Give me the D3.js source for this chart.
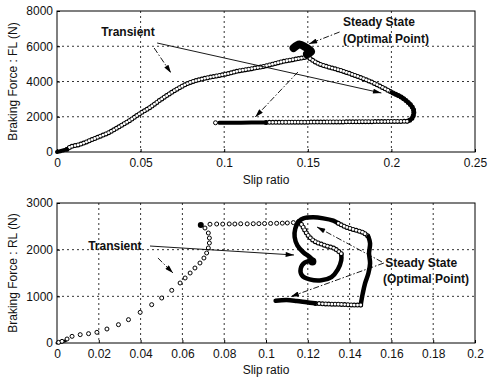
<!DOCTYPE html>
<html lang="en">
<head>
<meta charset="UTF-8">
<title>Braking force vs slip ratio</title>
<script src="https://d3js.org/d3.v7.min.js"></script>
<style>
    html, body { margin: 0; background: #fff; }
    text { font-family: Arial, "Liberation Sans", Helvetica, sans-serif; fill: #111; }
</style>
</head>
<body>
<script>

// ---- top chart: front-left wheel (FL) ----
var flXTicks = [0, 0.05, 0.1, 0.15, 0.2, 0.25];
var flXLabels = ["0", "0.05", "0.1", "0.15", "0.2", "0.25"];
var flYTicks = [0, 2000, 4000, 6000, 8000];

// [slip, force]
var flStart = [[0, 0], [0.002, 40], [0.004, 100], [0.006, 150]];
var flRise = [[0.006, 150], [0.0079, 283], [0.0138, 434], [0.0198, 660], [0.0257, 887], [0.0316, 1132],
    [0.0375, 1453], [0.0435, 1793], [0.0494, 2170], [0.0553, 2510], [0.0613, 2925], [0.0672, 3302],
    [0.0731, 3642], [0.079, 3920], [0.085, 4100], [0.0909, 4230], [0.0968, 4340], [0.1028, 4460],
    [0.1087, 4600], [0.1228, 4840], [0.1346, 5120], [0.1445, 5300], [0.150, 5400]];
var flFall = [[0.150, 5400], [0.156, 5030], [0.1718, 4560], [0.1876, 3990], [0.1995, 3420], [0.2084, 2950],
    [0.2133, 2380], [0.2123, 1910], [0.2094, 1740]];
var flElbow = [[0.2000, 3380], [0.2084, 2950], [0.2133, 2380], [0.2123, 1910], [0.2094, 1740]];
var flReturn = [[0.2094, 1740], [0.185, 1720], [0.16, 1700], [0.14, 1690], [0.125, 1680]];
var flReturnThick = [[0.125, 1680], [0.11, 1665], [0.097, 1660]];
var flEnd = [[0.0948, 1660]];
var flBlob = [[0.1415, 5900], [0.145, 6100], [0.1485, 5950], [0.152, 5700], [0.1495, 5550]];

// ---- bottom chart: rear-left wheel (RL) ----
var rlXTicks = [0, 0.02, 0.04, 0.06, 0.08, 0.1, 0.12, 0.14, 0.16, 0.18, 0.2];
var rlXLabels = ["0", "0.02", "0.04", "0.06", "0.08", "0.1", "0.12", "0.14", "0.16", "0.18", "0.2"];
var rlYTicks = [0, 1000, 2000, 3000];

var rlStart = [[0, 0], [0.002, 20], [0.004, 45]];
var rlRise = [[0.0008, 14], [0.0024, 36], [0.0048, 86], [0.0072, 143], [0.0111, 179], [0.0151, 200],
    [0.0191, 229], [0.0239, 300], [0.0294, 393], [0.0342, 500], [0.0398, 657], [0.0453, 821],
    [0.0501, 964], [0.0549, 1129], [0.0589, 1286], [0.0613, 1393], [0.0637, 1500], [0.066, 1607],
    [0.0684, 1714], [0.0703, 1821], [0.0716, 1929], [0.0724, 2036], [0.0729, 2143], [0.0729, 2250],
    [0.0724, 2357], [0.0708, 2464]];
var rlTop = [[0.0732, 2545], [0.0764, 2550], [0.0793, 2548], [0.0824, 2552], [0.0851, 2550], [0.0879, 2555],
    [0.0910, 2553], [0.0939, 2556], [0.0966, 2558], [0.0993, 2560], [0.1022, 2562], [0.1051, 2565],
    [0.1078, 2568], [0.1102, 2572], [0.1131, 2580], [0.1158, 2590]];
var rlTurn = [[0.0688, 2530]];
var rlOuterTop = [[0.1155, 2600], [0.1179, 2671], [0.1226, 2693], [0.1274, 2671], [0.1322, 2621], [0.1346, 2564]];
var rlRightRings = [[0.1346, 2564], [0.1378, 2493], [0.1426, 2421], [0.1466, 2364], [0.149, 2279]];
var rlRightThick = [[0.149, 2279], [0.1498, 2136], [0.1493, 1921], [0.1498, 1707], [0.149, 1493],
    [0.1474, 1279], [0.1463, 1064], [0.1453, 814]];
var rlBottomRings = [[0.1453, 814], [0.1418, 814], [0.1354, 829], [0.129, 836], [0.1234, 850]];
var rlBottomThick = [[0.1234, 850], [0.1195, 871], [0.1147, 900], [0.1099, 921], [0.1046, 906]];
var rlLeftThick = [[0.1155, 2600], [0.114, 2450], [0.1137, 2271], [0.115, 2093], [0.1177, 1950],
    [0.1209, 1843], [0.1225, 1771]];
var rlLobeThick = [[0.1225, 1760], [0.1185, 1721], [0.1166, 1593], [0.1172, 1450], [0.1209, 1364],
    [0.1265, 1343], [0.1313, 1414], [0.1344, 1579], [0.136, 1771], [0.136, 1914]];
var rlInnerRings = [[0.136, 1914], [0.1329, 2021], [0.1281, 2093], [0.1233, 2179], [0.1201, 2307],
    [0.1177, 2486], [0.1165, 2570]];
var rlEnd = [[0.1222, 1745]];

var width = 488, height = 379;
var svg = d3.select("body").append("svg").attr("width", width).attr("height", height);

var defs = svg.append("defs");
defs.append("marker").attr("id", "head")
    .attr("viewBox", "0 0 10 6").attr("refX", 10).attr("refY", 3)
    .attr("markerWidth", 10).attr("markerHeight", 5).attr("markerUnits", "userSpaceOnUse")
    .attr("orient", "auto")
    .append("path").attr("d", "M0,0 L10,3 L0,6 Z").attr("fill", "#000");

function makePanel(opt) {
    var x = d3.scaleLinear().domain(opt.xDomain).range([57, 475]);
    var y = d3.scaleLinear().domain(opt.yDomain).range([opt.bottom, opt.top]);
    var g = svg.append("g");

    // grid
    g.append("g").selectAll("line").data(opt.xTicks.slice(1, -1)).join("line")
        .attr("x1", function (d) { return x(d); }).attr("x2", function (d) { return x(d); })
        .attr("y1", opt.top).attr("y2", opt.bottom)
        .attr("stroke", "#000").attr("stroke-width", 0.8).attr("stroke-dasharray", "2,3");
    g.append("g").selectAll("line").data(opt.yTicks.slice(1, -1)).join("line")
        .attr("y1", function (d) { return y(d); }).attr("y2", function (d) { return y(d); })
        .attr("x1", 57).attr("x2", 475)
        .attr("stroke", "#000").attr("stroke-width", 0.8).attr("stroke-dasharray", "2,3");

    // axes
    var xAxis = d3.axisBottom(x).tickValues(opt.xTicks).tickSize(-3).tickPadding(6)
        .tickFormat(function (d, i) { return opt.xLabels[i]; });
    var yAxis = d3.axisLeft(y).tickValues(opt.yTicks).tickSize(-3).tickPadding(4)
        .tickFormat(d3.format("d"));
    var gx = g.append("g").attr("transform", "translate(0," + opt.bottom + ")").call(xAxis);
    var gy = g.append("g").attr("transform", "translate(57,0)").call(yAxis);
    [gx, gy].forEach(function (a) {
        a.select(".domain").remove();
        a.selectAll("text").style("font-size", "12px").attr("fill", "#111");
        a.selectAll("line").attr("stroke", "#000");
    });

    g.append("rect").attr("x", 57).attr("y", opt.top)
        .attr("width", 418).attr("height", opt.bottom - opt.top)
        .attr("fill", "none").attr("stroke", "#000").attr("stroke-width", 1);

    g.append("text").attr("x", 266).attr("y", opt.xLabelY).attr("text-anchor", "middle")
        .style("font-size", "12px").text("Slip ratio");
    g.append("text").attr("transform", "translate(13," + ((opt.top + opt.bottom) / 2) + ") rotate(-90)")
        .attr("text-anchor", "middle").attr("dy", "0.35em")
        .style("font-size", "12px").text(opt.yLabel);

    var line = d3.line().x(function (d) { return x(d[0]); }).y(function (d) { return y(d[1]); })
        .curve(d3.curveCatmullRom);
    var plot = g.append("g");

    return {
        x: x, y: y,
        thick: function (data, w) {
            plot.append("path").attr("d", line(data)).attr("fill", "none")
                .attr("stroke", "#000").attr("stroke-width", w || 4.5)
                .attr("stroke-linecap", "round").attr("stroke-linejoin", "round");
        },
        // ring markers along a traced path
        rings: function (data, gap) {
            plot.append("path").attr("d", line(data)).attr("fill", "none")
                .attr("stroke", "#000").attr("stroke-width", 5)
                .attr("stroke-linecap", "round").attr("stroke-dasharray", "0," + gap);
            plot.append("path").attr("d", line(data)).attr("fill", "none")
                .attr("stroke", "#fff").attr("stroke-width", 2.8)
                .attr("stroke-linecap", "round").attr("stroke-dasharray", "0," + gap);
        },
        points: function (data, r) {
            plot.append("g").selectAll("circle").data(data).join("circle")
                .attr("cx", function (d) { return x(d[0]); }).attr("cy", function (d) { return y(d[1]); })
                .attr("r", r).attr("fill", "#fff").attr("stroke", "#000").attr("stroke-width", 1);
        },
        dots: function (data, r) {
            plot.append("g").selectAll("circle").data(data).join("circle")
                .attr("cx", function (d) { return x(d[0]); }).attr("cy", function (d) { return y(d[1]); })
                .attr("r", r).attr("fill", "#000");
        },
        arrow: function (from, to, dash) {
            g.append("line").attr("x1", x(from[0])).attr("y1", y(from[1]))
                .attr("x2", x(to[0])).attr("y2", y(to[1]))
                .attr("stroke", "#000").attr("stroke-width", 0.9)
                .attr("stroke-dasharray", dash ? "6,2,1.5,2" : null)
                .attr("marker-end", "url(#head)");
        },
        label: function (pos, txt) {
            g.append("text").attr("x", x(pos[0])).attr("y", y(pos[1]))
                .style("font-size", "12px").style("font-weight", "bold").text(txt);
        }
    };
}

// top panel
var flPanel = makePanel({
    xDomain: [0, 0.25], yDomain: [0, 8000], top: 11, bottom: 152,
    xTicks: flXTicks, xLabels: flXLabels, yTicks: flYTicks,
    xLabelY: 184, yLabel: "Braking Force : FL (N)"
});
flPanel.rings(flRise, 3);
flPanel.rings(flFall, 3);
flPanel.thick(flElbow, 4);
flPanel.rings(flReturn, 3.2);
flPanel.thick(flReturnThick, 4);
flPanel.points(flEnd, 2);
flPanel.thick(flStart, 4);
flPanel.thick(flBlob, 8);

flPanel.label([0.0265, 6600], "Transient");
flPanel.arrow([0.0599, 6184], [0.194, 3348], false);
flPanel.arrow([0.0581, 5900], [0.0682, 4482], true);
flPanel.label([0.171, 7150], "Steady State");
flPanel.label([0.171, 6170], "(Optimal Point)");
flPanel.arrow([0.169, 6808], [0.1506, 6128], true);
flPanel.arrow([0.1441, 4539], [0.1186, 1986], true);

// bottom panel
var rlPanel = makePanel({
    xDomain: [0, 0.2], yDomain: [0, 3000], top: 203, bottom: 343,
    xTicks: rlXTicks, xLabels: rlXLabels, yTicks: rlYTicks,
    xLabelY: 374, yLabel: "Braking Force : RL (N)"
});
rlPanel.thick(rlStart, 3);
rlPanel.points(rlRise, 2);
rlPanel.points(rlTop, 2);
rlPanel.dots(rlTurn, 3);
rlPanel.thick(rlOuterTop, 4.5);
rlPanel.rings(rlRightRings, 3.2);
rlPanel.thick(rlRightThick, 4.5);
rlPanel.rings(rlBottomRings, 3.2);
rlPanel.thick(rlBottomThick, 4.5);
rlPanel.thick(rlLeftThick, 4.5);
rlPanel.thick(rlLobeThick, 4.5);
rlPanel.rings(rlInnerRings, 3.2);
rlPanel.dots(rlEnd, 4);

rlPanel.label([0.0149, 2000], "Transient");
rlPanel.arrow([0.0445, 2078], [0.1134, 1886], false);
rlPanel.arrow([0.0483, 1821], [0.0555, 1500], true);
rlPanel.label([0.157, 1630], "Steady State");
rlPanel.label([0.156, 1290], "(Optimal Point)");
rlPanel.arrow([0.1555, 1736], [0.1244, 2486], true);
rlPanel.arrow([0.1564, 1714], [0.1118, 992], true);

</script>
</body>
</html>
